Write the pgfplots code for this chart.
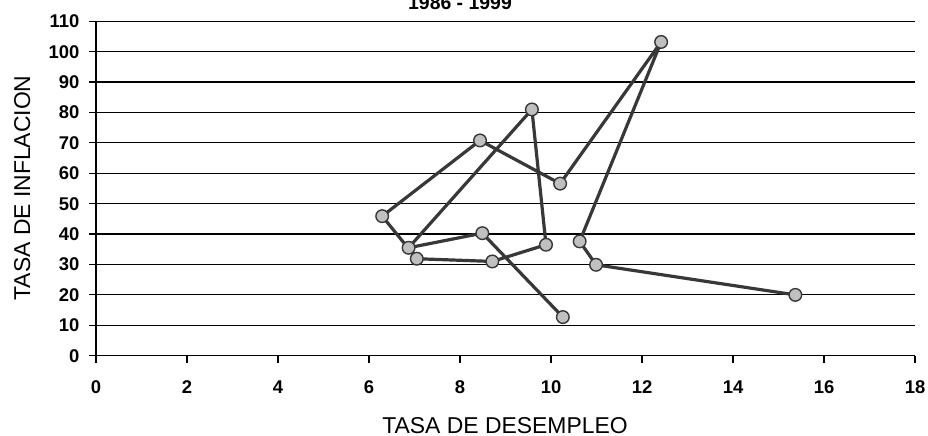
\documentclass[border=0pt]{standalone}
\usepackage{fontspec}
\setmainfont{Liberation Sans}
\usepackage{pgfplots}
\pgfplotsset{compat=1.18}
\definecolor{lineclr}{HTML}{383838}
\definecolor{markfill}{HTML}{C0C0C0}
\begin{document}
\begin{tikzpicture}[x=1bp,y=1bp]
\useasboundingbox (0,0) rectangle (928,436);
\begin{axis}[
  at={(96bp,80.3bp)}, anchor=south west,
  scale only axis, width=819bp, height=334.4bp,
  xmin=0, xmax=18, ymin=0, ymax=110,
  xtick={0,2,...,18}, ytick={0,10,...,110},
  axis x line*=bottom, axis y line*=left,
  axis line style={black, line width=1.2bp},
  tick align=outside, major tick length=7bp,
  tick style={black, line width=1.2bp},
  ymajorgrids, major grid style={black, line width=1.2bp},
  /pgf/number format/assume math mode=true,
  tick label style={font=\fontsize{18.5}{21}\selectfont\bfseries},
  xticklabel style={text height=13.3bp, text depth=0bp, yshift=-14bp},
  yticklabel style={xshift=-6bp},
  clip=false,
]
\addplot[color=lineclr, line width=3.2bp, line join=round, line cap=round,
  mark=*, mark size=6.3bp,
  mark options={fill=markfill, draw=lineclr, line width=1.4bp}]
coordinates {
(10.26,12.7) (8.49,40.3) (6.87,35.5) (9.58,81.0) (9.89,36.5) (8.71,31.0)
(7.05,31.9) (6.29,45.9) (8.44,70.8) (10.20,56.6) (12.42,103.2) (10.63,37.6)
(10.99,29.9) (15.37,20.0)
};
\end{axis}
\node[font=\fontsize{19.5}{22}\selectfont\bfseries, anchor=base] at (460,426) {1986 - 1999};
\node[font=\fontsize{23}{26}\selectfont, rotate=90, anchor=base] at (30,248) {TASA DE INFLACION};
\node[font=\fontsize{23}{26}\selectfont, anchor=base] at (505,2.7) {TASA DE DESEMPLEO};
\end{tikzpicture}
\end{document}
